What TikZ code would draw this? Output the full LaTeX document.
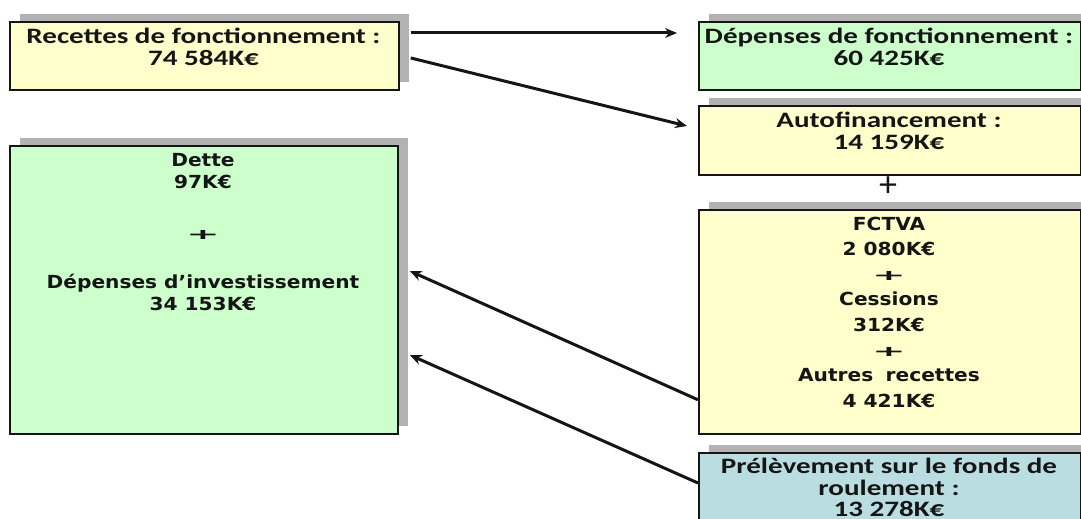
\documentclass[tikz,border=0pt]{standalone}
\usepackage{fontspec}
\setmainfont{Carlito}
\newfontfamily\hdfont[FakeStretch=1.32]{Carlito}
\newfontfamily\vfont[FakeStretch=1.12]{DejaVu Sans}
\usetikzlibrary{shadows,arrows.meta,calc}
\definecolor{yel}{HTML}{FFFFCC}
\definecolor{grn}{HTML}{CCFFCC}
\definecolor{blu}{HTML}{BADDE2}
\definecolor{shgray}{HTML}{B3B3B3}
\definecolor{ink}{HTML}{151515}
\newcommand{\bplus}{\scalebox{2.0}[0.8]{\bfseries +}}
\begin{document}
\begin{tikzpicture}[x=1pt,y=-1pt,
  box/.style={draw=ink, line width=1.8pt, rectangle, inner sep=0pt, anchor=north west,
    general shadow={fill=shgray, shadow xshift=10pt, shadow yshift=8pt}},
  hd/.style={font=\hdfont\bfseries\fontsize{22}{22}\selectfont, align=center, inner sep=0pt, anchor=north, text=ink},
  bd/.style={font=\vfont\bfseries\fontsize{18}{22}\selectfont, align=center, inner sep=0pt, anchor=north, text=ink},
  flow/.style={draw=ink, line width=3pt, -{Stealth[length=12pt,width=10pt]}}]
\useasboundingbox (0,0) rectangle (1081,519);
\clip (0,0) rectangle (1081,519);
% boxes
\node[box, fill=yel, minimum width=389pt, minimum height=68pt] (rec) at (9,21) {};
\node[box, fill=grn, minimum width=382pt, minimum height=68pt] (dep) at (698,21) {};
\node[box, fill=yel, minimum width=382pt, minimum height=69pt] (auto) at (698,105) {};
\node[box, fill=yel, minimum width=382pt, minimum height=224pt] (fct) at (698,209) {};
\node[box, fill=blu, minimum width=382pt, minimum height=100pt] (prel) at (698,452) {};
\node[box, fill=grn, minimum width=388pt, minimum height=288pt] (dette) at (9,145) {};
% texts
\node[hd] (trec) at (203.5,27.5) {Recettes de fonctionnement :\\74 584K€};
\node[hd] (tdep) at (889,27.5) {Dépenses de fonctionnement :\\60 425K€};
\node[hd] (tauto) at (889,111.5) {Autofinancement :\\14 159K€};
\node[hd, font=\hdfont\bfseries\fontsize{22}{21.5}\selectfont] (tprel) at (889,458) {Prélèvement sur le fonds de\\roulement :\\13 278K€};
\node[font=\fontsize{36}{36}\selectfont, inner sep=0pt, text=ink] (plus) at (888,187) {+};
\node[bd] (tdette) at (203,153.5) {Dette\\97K€\\[29pt]\bplus\\[27pt]Dépenses d’investissement\\34 153K€};
\node[bd, font=\vfont\bfseries\fontsize{18}{25.3}\selectfont] (tfct) at (889,216.5) {FCTVA\\2 080K€\\\bplus\\Cessions\\312K€\\\bplus\\Autres\hspace{0.3em} recettes\\4 421K€};
% connectors
\draw[flow] ($(rec.north east)+(11,12)$) -- ($(dep.north west)+(-21,12)$);
\draw[flow] ($(rec.north east)+(11,37)$) -- ($(auto.north west)+(-11,21)$);
\draw[flow] ($(fct.south west)+(0,-35)$) -- ($(dette.north east)+(11,126)$);
\draw[flow] ($(prel.north west)+(0,31)$) -- ($(dette.north east)+(11,210)$);
\end{tikzpicture}
\end{document}
